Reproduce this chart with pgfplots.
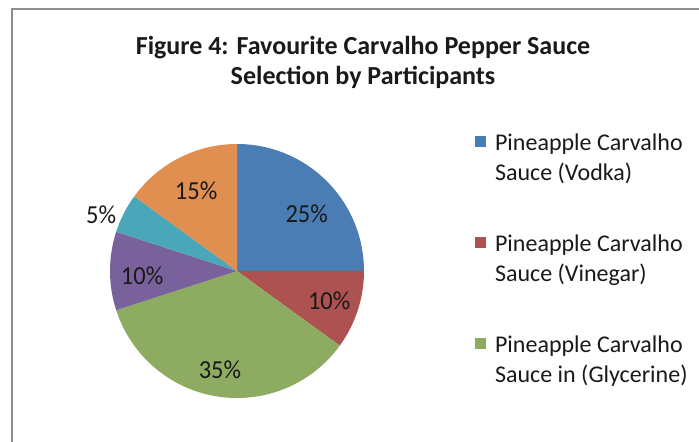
\documentclass[border=0pt]{standalone}
\usepackage{pgfplots}
\pgfplotsset{compat=1.18}
\usepackage{pgfplotstable}
\usepackage{fontspec}
\setmainfont{Carlito}

\definecolor{slice0}{HTML}{4A7DB4}
\definecolor{slice1}{HTML}{AD5250}
\definecolor{slice2}{HTML}{8DAC62}
\definecolor{slice3}{HTML}{79619C}
\definecolor{slice4}{HTML}{4AA6B9}
\definecolor{slice5}{HTML}{E08F50}
\definecolor{framegray}{HTML}{8E8E8E}
\definecolor{textdark}{HTML}{1A1A1A}

% share in percent, label radius (bp), label angle tweak (deg)
\pgfplotstableread{
share lr dang
25 90.5 -5.4
10 97 0
35 100 -0.8
10 95 2.8
5 147 4.6
15 90 0
}\piedata

\tikzset{pielabel/.style={font=\fontsize{24.5bp}{28bp}\selectfont, text=textdark, yscale=1.06}}

\begin{document}
\begin{tikzpicture}
\path[use as bounding box, fill=white] (0bp,0bp) rectangle (699bp,442bp);
\draw[framegray, line width=1.5bp] (12bp,0bp) -- (12bp,433bp) -- (699bp,433bp);
\node[font=\bfseries\fontsize{26bp}{30bp}\selectfont, align=center, text=textdark]
  at (363bp,380bp) {Figure 4: Favourite Carvalho Pepper Sauce\\Selection by Participants};

\begin{axis}[
  at={(237bp,171bp)}, anchor=center,
  scale only axis, width=254bp, height=254bp,
  hide axis, clip=false,
  xmin=-1, xmax=1, ymin=-1, ymax=1,
  legend cell align=left,
  legend image code/.code={\path[draw=none,#1] (0bp,10.5bp) rectangle (11bp,21.5bp); \path (18bp,10.5bp);},
  legend style={at={(1.424,1.058)}, anchor=north west, draw=none, fill=none,
    font=\fontsize{24bp}{30bp}\selectfont, text=textdark,
    row sep=49bp, cells={align=left}},
]
\pgfplotstablegetrowsof{\piedata}
\pgfmathtruncatemacro\lastrow{\pgfplotsretval-1}
\def\startangle{90}
\pgfplotsforeachungrouped \i in {0,...,\lastrow}{%
  \pgfplotstablegetelem{\i}{share}\of\piedata \let\v\pgfplotsretval
  \pgfplotstablegetelem{\i}{lr}\of\piedata \let\lr\pgfplotsretval
  \pgfplotstablegetelem{\i}{dang}\of\piedata \let\dang\pgfplotsretval
  \pgfmathsetmacro\endangle{\startangle-3.6*\v}
  \pgfmathsetmacro\la{(\startangle+\endangle)/2+\dang}
  \pgfmathsetmacro\lx{\lr/127*cos(\la)}
  \pgfmathsetmacro\ly{\lr/127*sin(\la)}
  \edef\temp{\noexpand\fill[slice\i] (axis cs:0,0) -- ++(\startangle:127bp)
    arc[start angle=\startangle, end angle=\endangle, radius=127bp] -- cycle;
    \noexpand\node[pielabel] at (axis cs:\lx,\ly) {\v\noexpand\%};}
  \temp
  \global\let\startangle\endangle
}
\addlegendimage{fill=slice0}
\addlegendentry{Pineapple Carvalho\\Sauce (Vodka)}
\addlegendimage{fill=slice1}
\addlegendentry{Pineapple Carvalho\\Sauce (Vinegar)}
\addlegendimage{fill=slice2}
\addlegendentry{Pineapple Carvalho\\Sauce in (Glycerine)}
\end{axis}
\end{tikzpicture}
\end{document}
